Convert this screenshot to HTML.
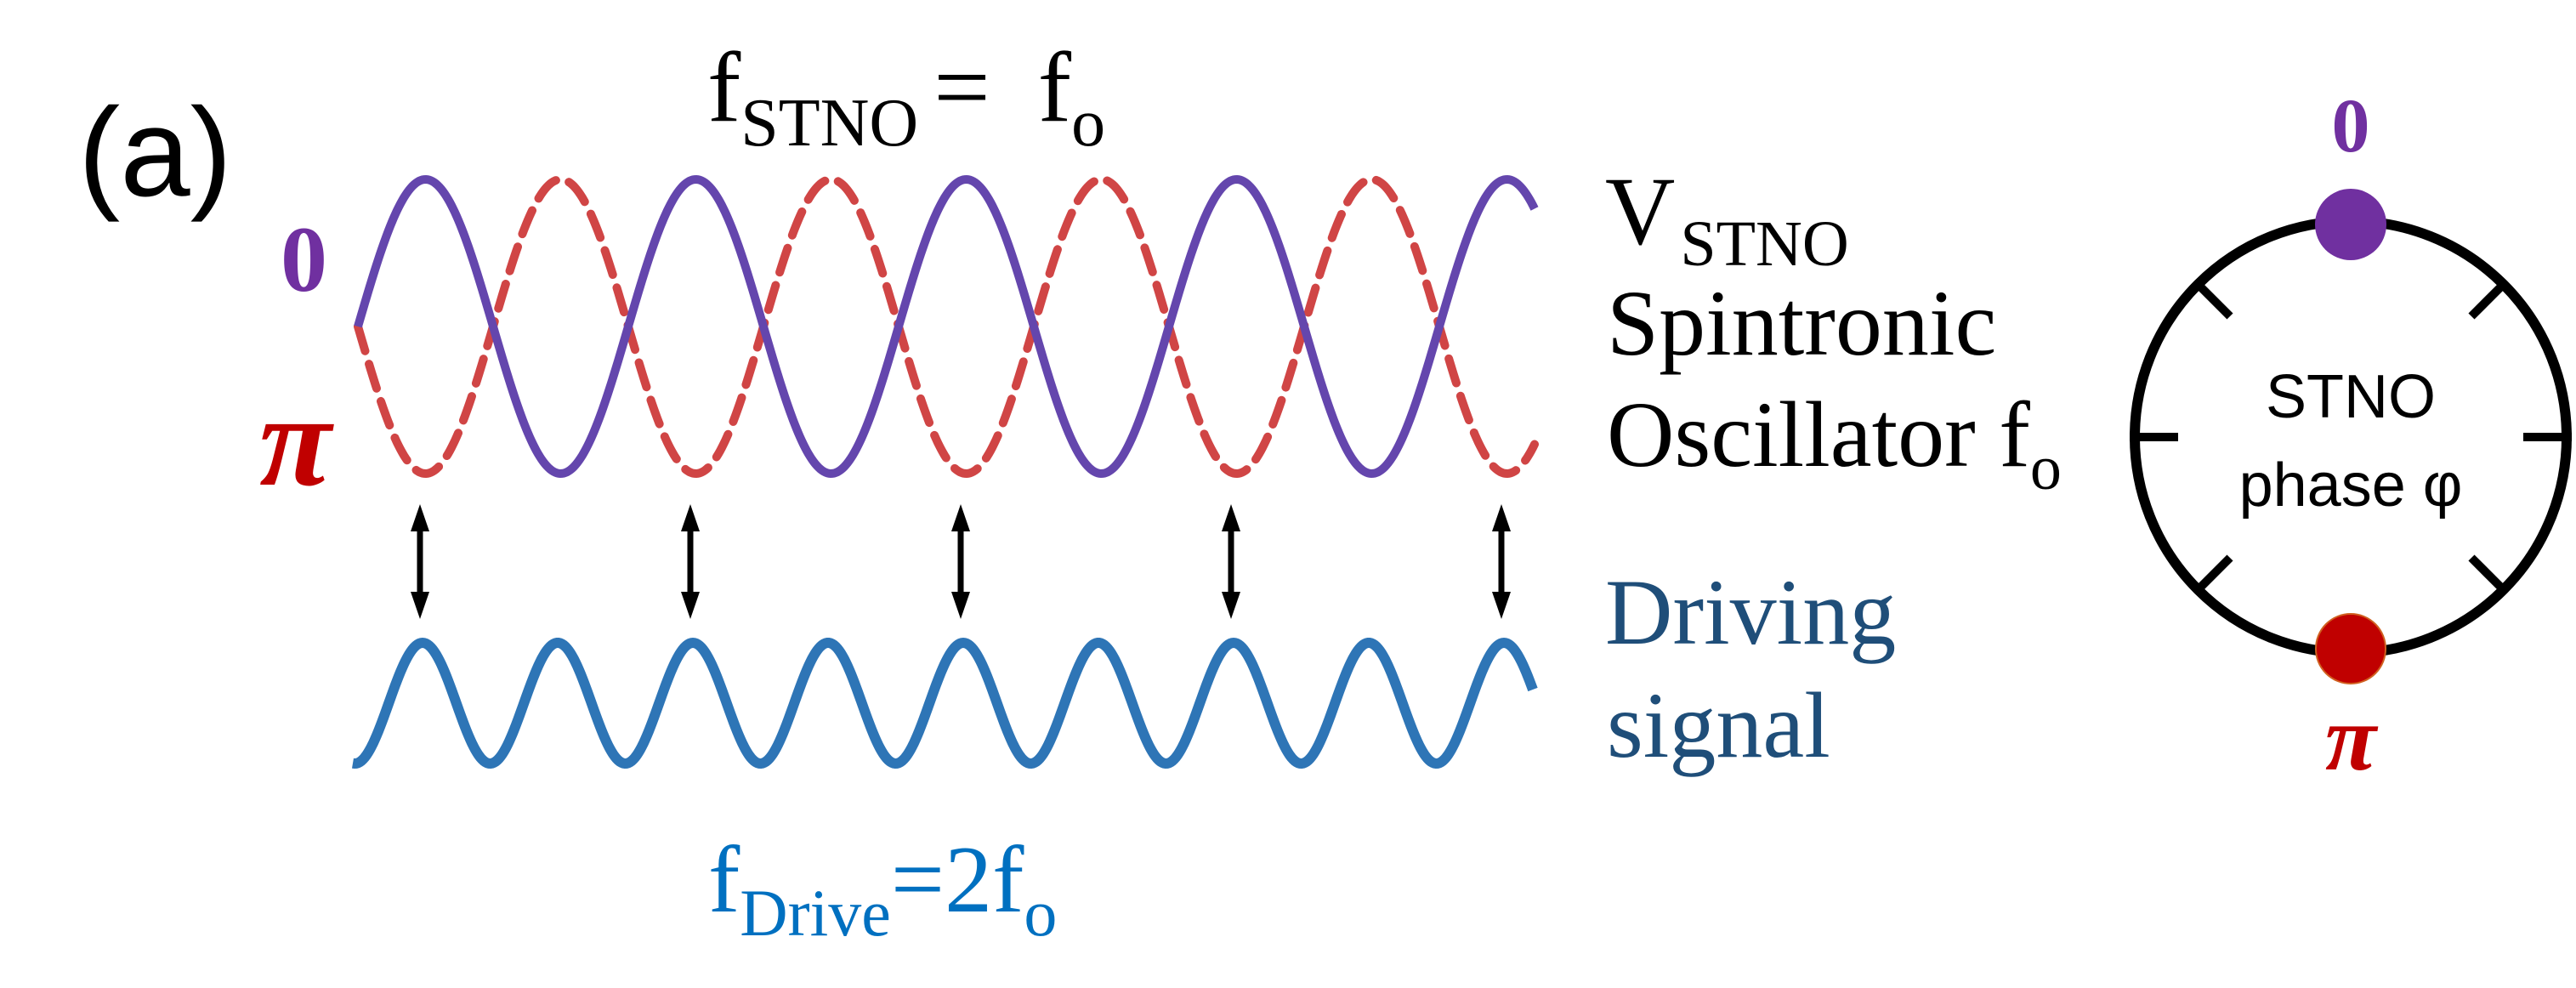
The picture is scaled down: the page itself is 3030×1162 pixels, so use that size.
<!DOCTYPE html>
<html><head><meta charset="utf-8"><style>
html,body{margin:0;padding:0;background:#fff;}
svg{display:block}
</style></head><body>
<svg id="s" width="3030" height="1162" viewBox="0 0 3030 1162" xmlns="http://www.w3.org/2000/svg">
<rect width="3030" height="1162" fill="#fff"/>
<path id="red" fill="none" stroke="#d04545" stroke-width="10" stroke-dasharray="30 16" stroke-linecap="round"/>
<path id="pur" fill="none" stroke="#6446ad" stroke-width="10"/>
<path id="blu" fill="none" stroke="#2e75b6" stroke-width="12"/>
<g id="arrows" stroke="#000" stroke-width="7" fill="#000"></g>

<text x="92" y="230" font-family="Liberation Sans, sans-serif" font-size="148">(a)</text>
<text x="330" y="342" font-family="Liberation Serif, serif" font-weight="bold" font-size="110" fill="#7030a0">0</text>
<text x="305" y="570" font-family="Liberation Serif, serif" font-weight="bold" font-style="italic" font-size="155" fill="#c00000">π</text>

<text x="832" y="142" font-family="Liberation Serif, serif" font-size="118">f<tspan font-size="80" dy="29">STNO</tspan><tspan dy="-29" dx="18">=</tspan><tspan dx="56">f</tspan><tspan font-size="80" dy="29">o</tspan></text>
<text x="833" y="1072" font-family="Liberation Serif, serif" font-size="112" fill="#0070c0">f<tspan font-size="78" dy="28">Drive</tspan><tspan dy="-28">=2f</tspan><tspan font-size="78" dy="28">o</tspan></text>

<g font-family="Liberation Serif, serif" font-size="110">
<text x="1888" y="287" font-size="114">V<tspan font-size="76" dy="25" dx="6">STNO</tspan></text>
<text x="1890" y="417">Spintronic</text>
<text x="1890" y="548">Oscillator f<tspan font-size="74" dy="27">o</tspan></text>
<text x="1888" y="757" fill="#1f4e79">Driving</text>
<text x="1890" y="890" fill="#1f4e79">signal</text>
</g>

<circle cx="2765" cy="514" r="254" fill="none" stroke="#000" stroke-width="12"/>
<g stroke="#000" stroke-width="10">
<line x1="2505" y1="514" x2="2562" y2="514"/>
<line x1="2968" y1="514" x2="3025" y2="514"/>
<line x1="2585" y1="334" x2="2623" y2="372"/>
<line x1="2945" y1="334" x2="2907" y2="372"/>
<line x1="2585" y1="694" x2="2623" y2="656"/>
<line x1="2945" y1="694" x2="2907" y2="656"/>
</g>
<circle cx="2765" cy="264" r="42" fill="#7030a0"/>
<circle cx="2765" cy="763" r="41" fill="#c00000" stroke="#d06020" stroke-width="2"/>
<text x="2765" y="178" text-anchor="middle" font-family="Liberation Serif, serif" font-weight="bold" font-size="90" fill="#7030a0">0</text>
<text x="2765" y="905" text-anchor="middle" font-family="Liberation Serif, serif" font-weight="bold" font-style="italic" font-size="110" fill="#c00000">π</text>
<text x="2765" y="491" text-anchor="middle" font-family="Liberation Sans, sans-serif" font-size="72">STNO</text>
<text x="2765" y="595" text-anchor="middle" font-family="Liberation Sans, sans-serif" font-size="72">phase φ</text>
</svg>
<script>
function wave(x0,x1,f){var d='';for(var x=x0;x<=x1;x+=2){d+=(x===x0?'M':'L')+x+' '+f(x).toFixed(2)+' ';}return d;}
var P=318;
document.getElementById('pur').setAttribute('d',wave(421,1805,function(x){return 384-173*Math.sin(2*Math.PI*(x-421)/P);}));
document.getElementById('red').setAttribute('d',wave(421,1805,function(x){return 384+173*Math.sin(2*Math.PI*(x-421)/P);}));
document.getElementById('blu').setAttribute('d',wave(415,1803,function(x){return 827-71*Math.cos(2*Math.PI*(x-497)/159);}));
var g=document.getElementById('arrows'),ns='http://www.w3.org/2000/svg';
[494,812,1130,1448,1766].forEach(function(x){
 var l=document.createElementNS(ns,'line');l.setAttribute('x1',x);l.setAttribute('x2',x);l.setAttribute('y1',615);l.setAttribute('y2',706);g.appendChild(l);
 var a=document.createElementNS(ns,'polygon');a.setAttribute('points',x+',593 '+(x-11)+',625 '+(x+11)+',625');a.setAttribute('stroke','none');g.appendChild(a);
 var b=document.createElementNS(ns,'polygon');b.setAttribute('points',x+',728 '+(x-11)+',696 '+(x+11)+',696');b.setAttribute('stroke','none');g.appendChild(b);
});
</script>
</body></html>
